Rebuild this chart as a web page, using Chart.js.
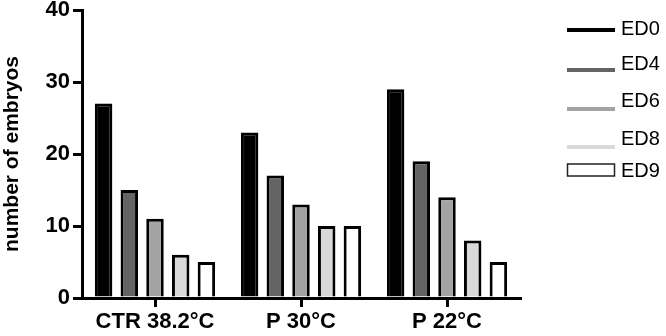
<!DOCTYPE html>
<html>
<head>
<meta charset="utf-8">
<script src="https://cdn.jsdelivr.net/npm/chart.js@4.4.1/dist/chart.umd.min.js"></script>
<style>
  html, body { margin: 0; padding: 0; background: #fff; }
  #wrap { width: 666px; height: 336px; position: relative; }
</style>
</head>
<body>
<div id="wrap"><canvas id="c" width="666" height="336"></canvas></div>
<script>
const categories = ["CTR 38.2°C", "P 30°C", "P 22°C"];
const seriesNames = ["ED0", "ED4", "ED6", "ED8", "ED9"];
const ed0 = [27, 23, 29];
const ed4 = [15, 17, 19];
const ed6 = [11, 13, 14];
const ed8 = [6, 10, 8];
const ed9 = [5, 10, 5];
const yTicks = [0, 10, 20, 30, 40];
const yTitle = "number of embryos";

const seriesValues = [ed0, ed4, ed6, ed8, ed9];
const fills = ["#000000", "#646464", "#a3a3a3", "#d9d9d9", "#ffffff"];

const FONT = "'Liberation Sans', Arial, sans-serif";

const legendPlugin = {
  id: 'customLegend',
  afterDraw(chart) {
    const ctx = chart.ctx;
    const x0 = 567, x1 = 615, tx = 621;
    const baselines = [35, 70, 107, 145, 177];
    const lineYs = [30, 70, 109, 147, 170];
    ctx.save();
    ctx.font = "20px " + FONT;
    ctx.textBaseline = 'alphabetic';
    ctx.textAlign = 'left';
    chart.data.datasets.forEach((ds, i) => {
      const y = lineYs[i];
      if (i < 4) {
        ctx.strokeStyle = ds.backgroundColor;
        ctx.lineWidth = 4;
        ctx.beginPath();
        ctx.moveTo(x0, y);
        ctx.lineTo(x1, y);
        ctx.stroke();
      } else {
        ctx.fillStyle = '#fff';
        ctx.fillRect(x0, y - 6, x1 - x0, 12);
        ctx.strokeStyle = '#222';
        ctx.lineWidth = 1.5;
        ctx.strokeRect(x0 + 0.5, y - 6, x1 - x0 - 1, 12);
      }
      ctx.fillStyle = '#000';
      ctx.fillText(ds.label, tx, baselines[i]);
    });
    ctx.restore();
  }
};

new Chart(document.getElementById('c'), {
  type: 'bar',
  data: {
    labels: categories,
    datasets: seriesNames.map((n, i) => ({
      label: n,
      data: seriesValues[i],
      backgroundColor: fills[i],
      borderColor: '#000',
      borderWidth: 3,
      borderSkipped: 'start',
      categoryPercentage: 0.88,
      barPercentage: 0.68
    }))
  },
  options: {
    responsive: false,
    animation: false,
    devicePixelRatio: 1,
    layout: { padding: { left: 0, right: 146, top: 10, bottom: 0 } },
    plugins: { legend: { display: false }, tooltip: { enabled: false } },
    scales: {
      x: {
        grid: { display: true, drawOnChartArea: false, offset: false, tickLength: 9, lineWidth: 3, color: '#000' },
        border: { display: true, color: '#000', width: 3 },
        ticks: { color: '#000', font: { family: FONT, size: 22, weight: 'bold' }, padding: 2, maxRotation: 0 },
        afterFit(scale) { scale.height = 38; }
      },
      y: {
        min: 0, max: 40,
        afterBuildTicks(scale) { scale.ticks = yTicks.map(v => ({ value: v })); },
        grid: { display: true, drawOnChartArea: false, tickLength: 9, lineWidth: 3, color: '#000' },
        border: { display: true, color: '#000', width: 3 },
        ticks: { color: '#000', font: { family: FONT, size: 22, weight: 'bold' }, padding: 3 },
        title: { display: true, text: yTitle, color: '#000', font: { family: FONT, size: 21, weight: 'bold' }, padding: { top: 0, bottom: 4 } },
        afterFit(scale) { scale.width = 82; scale.paddingTop = 0; scale.paddingBottom = 0; }
      }
    }
  },
  plugins: [legendPlugin]
});
</script>
</body>
</html>
